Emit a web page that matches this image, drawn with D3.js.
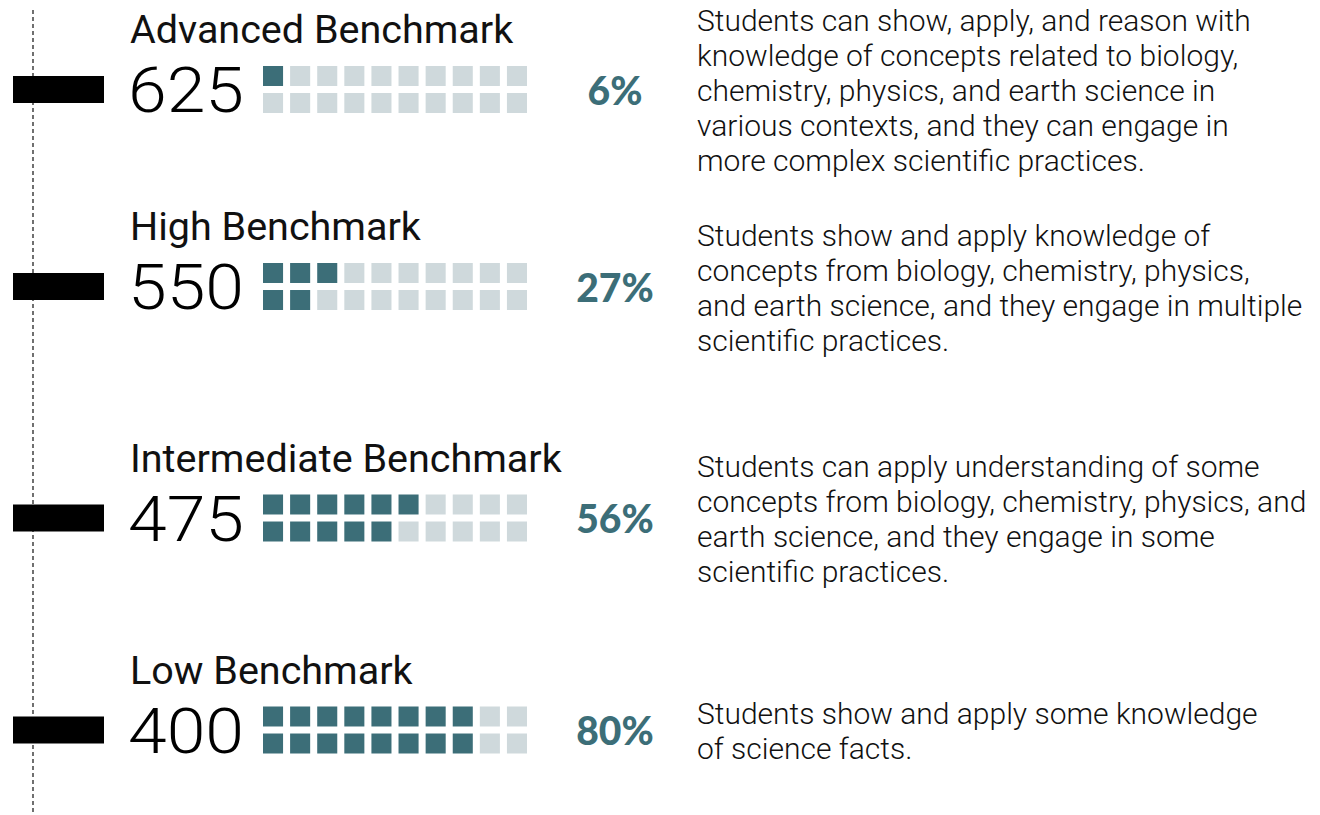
<!DOCTYPE html>
<html>
<head>
<meta charset="utf-8">
<script src="https://cdn.jsdelivr.net/npm/d3@7"></script>
<style>
  html, body { margin: 0; padding: 0; background: #ffffff; }
  svg { display: block; }
</style>
</head>
<body>
<svg id="chart" width="1320" height="815"></svg>
<script>
// ---- data ----
const benchmarks = ["Advanced Benchmark", "High Benchmark", "Intermediate Benchmark", "Low Benchmark"];
const scores = [625, 550, 475, 400];
const percents = [6, 27, 56, 80];
const descriptions = [
  ["Students can show, apply, and reason with",
   "knowledge of concepts related to biology,",
   "chemistry, physics, and earth science in",
   "various contexts, and they can engage in",
   "more complex scientific practices."],
  ["Students show and apply knowledge of",
   "concepts from biology, chemistry, physics,",
   "and earth science, and they engage in multiple",
   "scientific practices."],
  ["Students can apply understanding of some",
   "concepts from biology, chemistry, physics, and",
   "earth science, and they engage in some",
   "scientific practices."],
  ["Students show and apply some knowledge",
   "of science facts."]
];

// ---- layout ----
const W = 1320, H = 815;
const svg = d3.select("#chart");
const teal = "#3c6e78", light = "#cfd9dc";

// row centres positioned by score (piecewise scale)
const yScore = d3.scaleLinear().domain([625, 550, 475, 400]).range([89.5, 286.5, 518, 730]);

// waffle scales: 10 columns x 2 rows, each cell = 5%
const xCell = d3.scaleBand().domain(d3.range(10)).range([263, 527]).paddingInner(0.26);
const yCell = d3.scaleBand().domain([0, 1]).range([-23.5, 23.5]).paddingInner(0.26);

// dashed axis line
svg.append("line")
  .attr("x1", 33).attr("x2", 33).attr("y1", 10).attr("y2", H)
  .attr("stroke", "#111").attr("stroke-width", 1.2)
  .attr("stroke-dasharray", "4,3");

const rows = svg.selectAll("g.row")
  .data(benchmarks.map((b, i) => ({ name: b, score: scores[i], pct: percents[i], desc: descriptions[i] })))
  .join("g").attr("class", "row")
  .attr("transform", d => `translate(0,${yScore(d.score)})`);

// black marker bar
rows.append("rect")
  .attr("x", 13).attr("width", 91).attr("y", -13.5).attr("height", 27)
  .attr("fill", "#000");

// title
rows.append("text")
  .attr("x", 130).attr("y", -46.5)
  .attr("font-family", "Roboto, 'Liberation Sans', sans-serif")
  .attr("font-size", 39.5).attr("font-weight", 400).attr("fill", "#111")
  .text(d => d.name);

// score number (slightly widened like the reference face)
rows.append("text")
  .attr("x", 128).attr("y", 22.5)
  .attr("font-family", "Roboto, 'Liberation Sans', sans-serif")
  .attr("font-size", 63).attr("font-weight", 300).attr("fill", "#000")
  .attr("textLength", 116).attr("lengthAdjust", "spacingAndGlyphs")
  .text(d => d.score);

// waffle cells
rows.selectAll("rect.cell")
  .data(d => d3.range(20).map(k => ({ col: Math.floor(k / 2), row: k % 2, on: k < Math.round(d.pct / 5) })))
  .join("rect").attr("class", "cell")
  .attr("x", c => xCell(c.col)).attr("y", c => yCell(c.row))
  .attr("width", xCell.bandwidth()).attr("height", yCell.bandwidth())
  .attr("fill", c => c.on ? teal : light);

// percent label
rows.append("text")
  .attr("x", 615).attr("y", 15)
  .attr("text-anchor", "middle")
  .attr("font-family", "Lato, 'Open Sans', sans-serif")
  .attr("font-size", 39).attr("font-weight", 900).attr("fill", teal)
  .text(d => d.pct + "%");

// description
const lineH = 35;
rows.each(function(d) {
  const g = d3.select(this);
  const n = d.desc.length;
  g.append("text")
    .attr("font-family", "Roboto, 'Liberation Sans', sans-serif")
    .attr("font-size", 30).attr("font-weight", 300).attr("fill", "#111")
    .selectAll("tspan").data(d.desc).join("tspan")
    .attr("x", 697)
    .attr("y", (t, i) => 1 + (i - (n - 1) / 2) * lineH + 10.5)
    .text(t => t);
});
</script>
</body>
</html>
